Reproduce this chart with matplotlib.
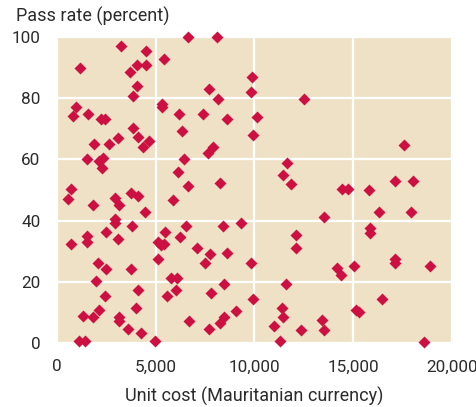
import matplotlib
matplotlib.use("Agg")
import matplotlib.pyplot as plt
from matplotlib.ticker import FuncFormatter

plt.rcParams['font.family'] = ['Roboto', 'DejaVu Sans']

########

unit_cost = [
    3240, 4490, 1180, 4050, 4520, 3710, 4030, 3830, 960, 790,
    1570, 2250, 2450, 3830, 4100, 4640, 4350, 1855, 2615, 3090,
    6630, 8120, 5400, 9860, 9805, 7700, 8135, 5320, 5320, 6160,
    7370, 8620, 10150, 6330, 9945, 7880, 7645, 6430, 6106, 6613,
    8253, 709, 537, 1803, 2916, 3154, 3762, 4081, 4435, 5873,
    2916, 2952, 3797, 2481, 1519, 1519, 709, 3087, 5483, 6511,
    6208, 5114, 5266, 5433, 7089, 7762, 8623, 7509, 8385, 9316,
    9840, 2057, 2496, 3729, 5114, 1975, 2411, 4116, 5772, 6076,
    6040, 5570, 7777, 8456, 9950, 2108, 1316, 1823, 4000, 3154,
    3120, 3610, 4235, 4942, 1129, 1397, 6684, 7696, 8235, 8437,
    9043, 1520, 2106, 2309, 2278, 12486, 17549, 11625, 11423, 11863,
    17094, 18005, 14430, 14714, 15777, 13534, 16304, 17904, 12101, 12116,
    15828, 15828, 14157, 14380, 15053, 17094, 17094, 18901, 11595, 16456,
    11408, 11443, 10967, 12334, 13418, 13499, 15150, 15300, 11306, 18562,
]

pass_rate = [
    97.0, 95.6, 90.0, 90.8, 90.8, 88.7, 84.0, 80.9, 77.2, 74.1,
    74.9, 73.1, 73.1, 70.3, 67.4, 66.0, 64.0, 65.0, 65.0, 67.1,
    100.0, 100.0, 92.9, 87.0, 82.0, 83.0, 79.7, 78.2, 77.1, 75.0,
    75.0, 73.1, 73.8, 69.2, 68.0, 64.2, 62.0, 60.0, 56.0, 51.3,
    52.4, 50.2, 47.1, 45.2, 47.3, 45.1, 49.1, 48.0, 42.9, 46.7,
    40.4, 39.3, 38.2, 36.1, 34.9, 32.9, 32.2, 33.9, 36.1, 38.3,
    34.7, 33.1, 32.0, 32.2, 31.1, 29.1, 29.4, 26.0, 38.2, 39.1,
    26.2, 26.1, 24.1, 24.0, 27.3, 20.2, 15.4, 17.3, 21.1, 21.3,
    17.4, 15.3, 16.2, 19.3, 14.3, 10.6, 8.7, 8.4, 11.4, 8.4,
    7.0, 4.4, 3.2, 0.7, 0.7, 0.6, 7.1, 4.5, 6.4, 8.3,
    10.4, 60.1, 59.5, 60.4, 57.1, 79.8, 64.8, 58.8, 54.9, 52.0,
    53.0, 53.0, 50.2, 50.2, 50.1, 41.3, 42.9, 42.9, 35.3, 31.1,
    37.5, 36.0, 24.4, 22.2, 25.1, 27.4, 26.0, 25.2, 19.1, 14.3,
    11.4, 8.3, 5.5, 4.3, 7.4, 4.2, 10.6, 10.2, 0.6, 0.3,
]

x_ticks = [0, 5000, 10000, 15000, 20000]
y_ticks = [0, 20, 40, 60, 80, 100]

########

text_col = "#2B2B2B"

fig = plt.figure(figsize = (4.77, 4.07), dpi = 100)
ax = fig.add_axes([0.1195, 0.158, 0.828, 0.7504])

ax.set_facecolor("#EFE1C6")
for s in ax.spines.values():
        s.set_visible(False)

ax.plot(unit_cost, pass_rate, ls = "none", marker = "D", ms = 6.5,
        color = "#CC1142", mec = "none", clip_on = False, zorder = 3)

ax.set_xlim(0, 20000)
ax.set_ylim(0, 100)
ax.set_xticks(x_ticks)
ax.set_yticks(y_ticks)
ax.xaxis.set_major_formatter(FuncFormatter(lambda v, p: f"{int(v):,}"))

ax.grid(True, color = "white", lw = 1.6)
ax.set_axisbelow(True)
ax.tick_params(length = 0, labelsize = 12.3, labelcolor = text_col)
ax.tick_params(axis = "y", pad = 12)
ax.tick_params(axis = "x", pad = 12)

ax.set_xlabel("Unit cost (Mauritanian currency)", fontsize = 13,
              color = text_col, labelpad = 9)
fig.text(16 / 477, 1 - 22 / 407, "Pass rate (percent)", fontsize = 13,
         color = text_col, ha = "left", va = "baseline")

plt.savefig("out.png", dpi = 100)
